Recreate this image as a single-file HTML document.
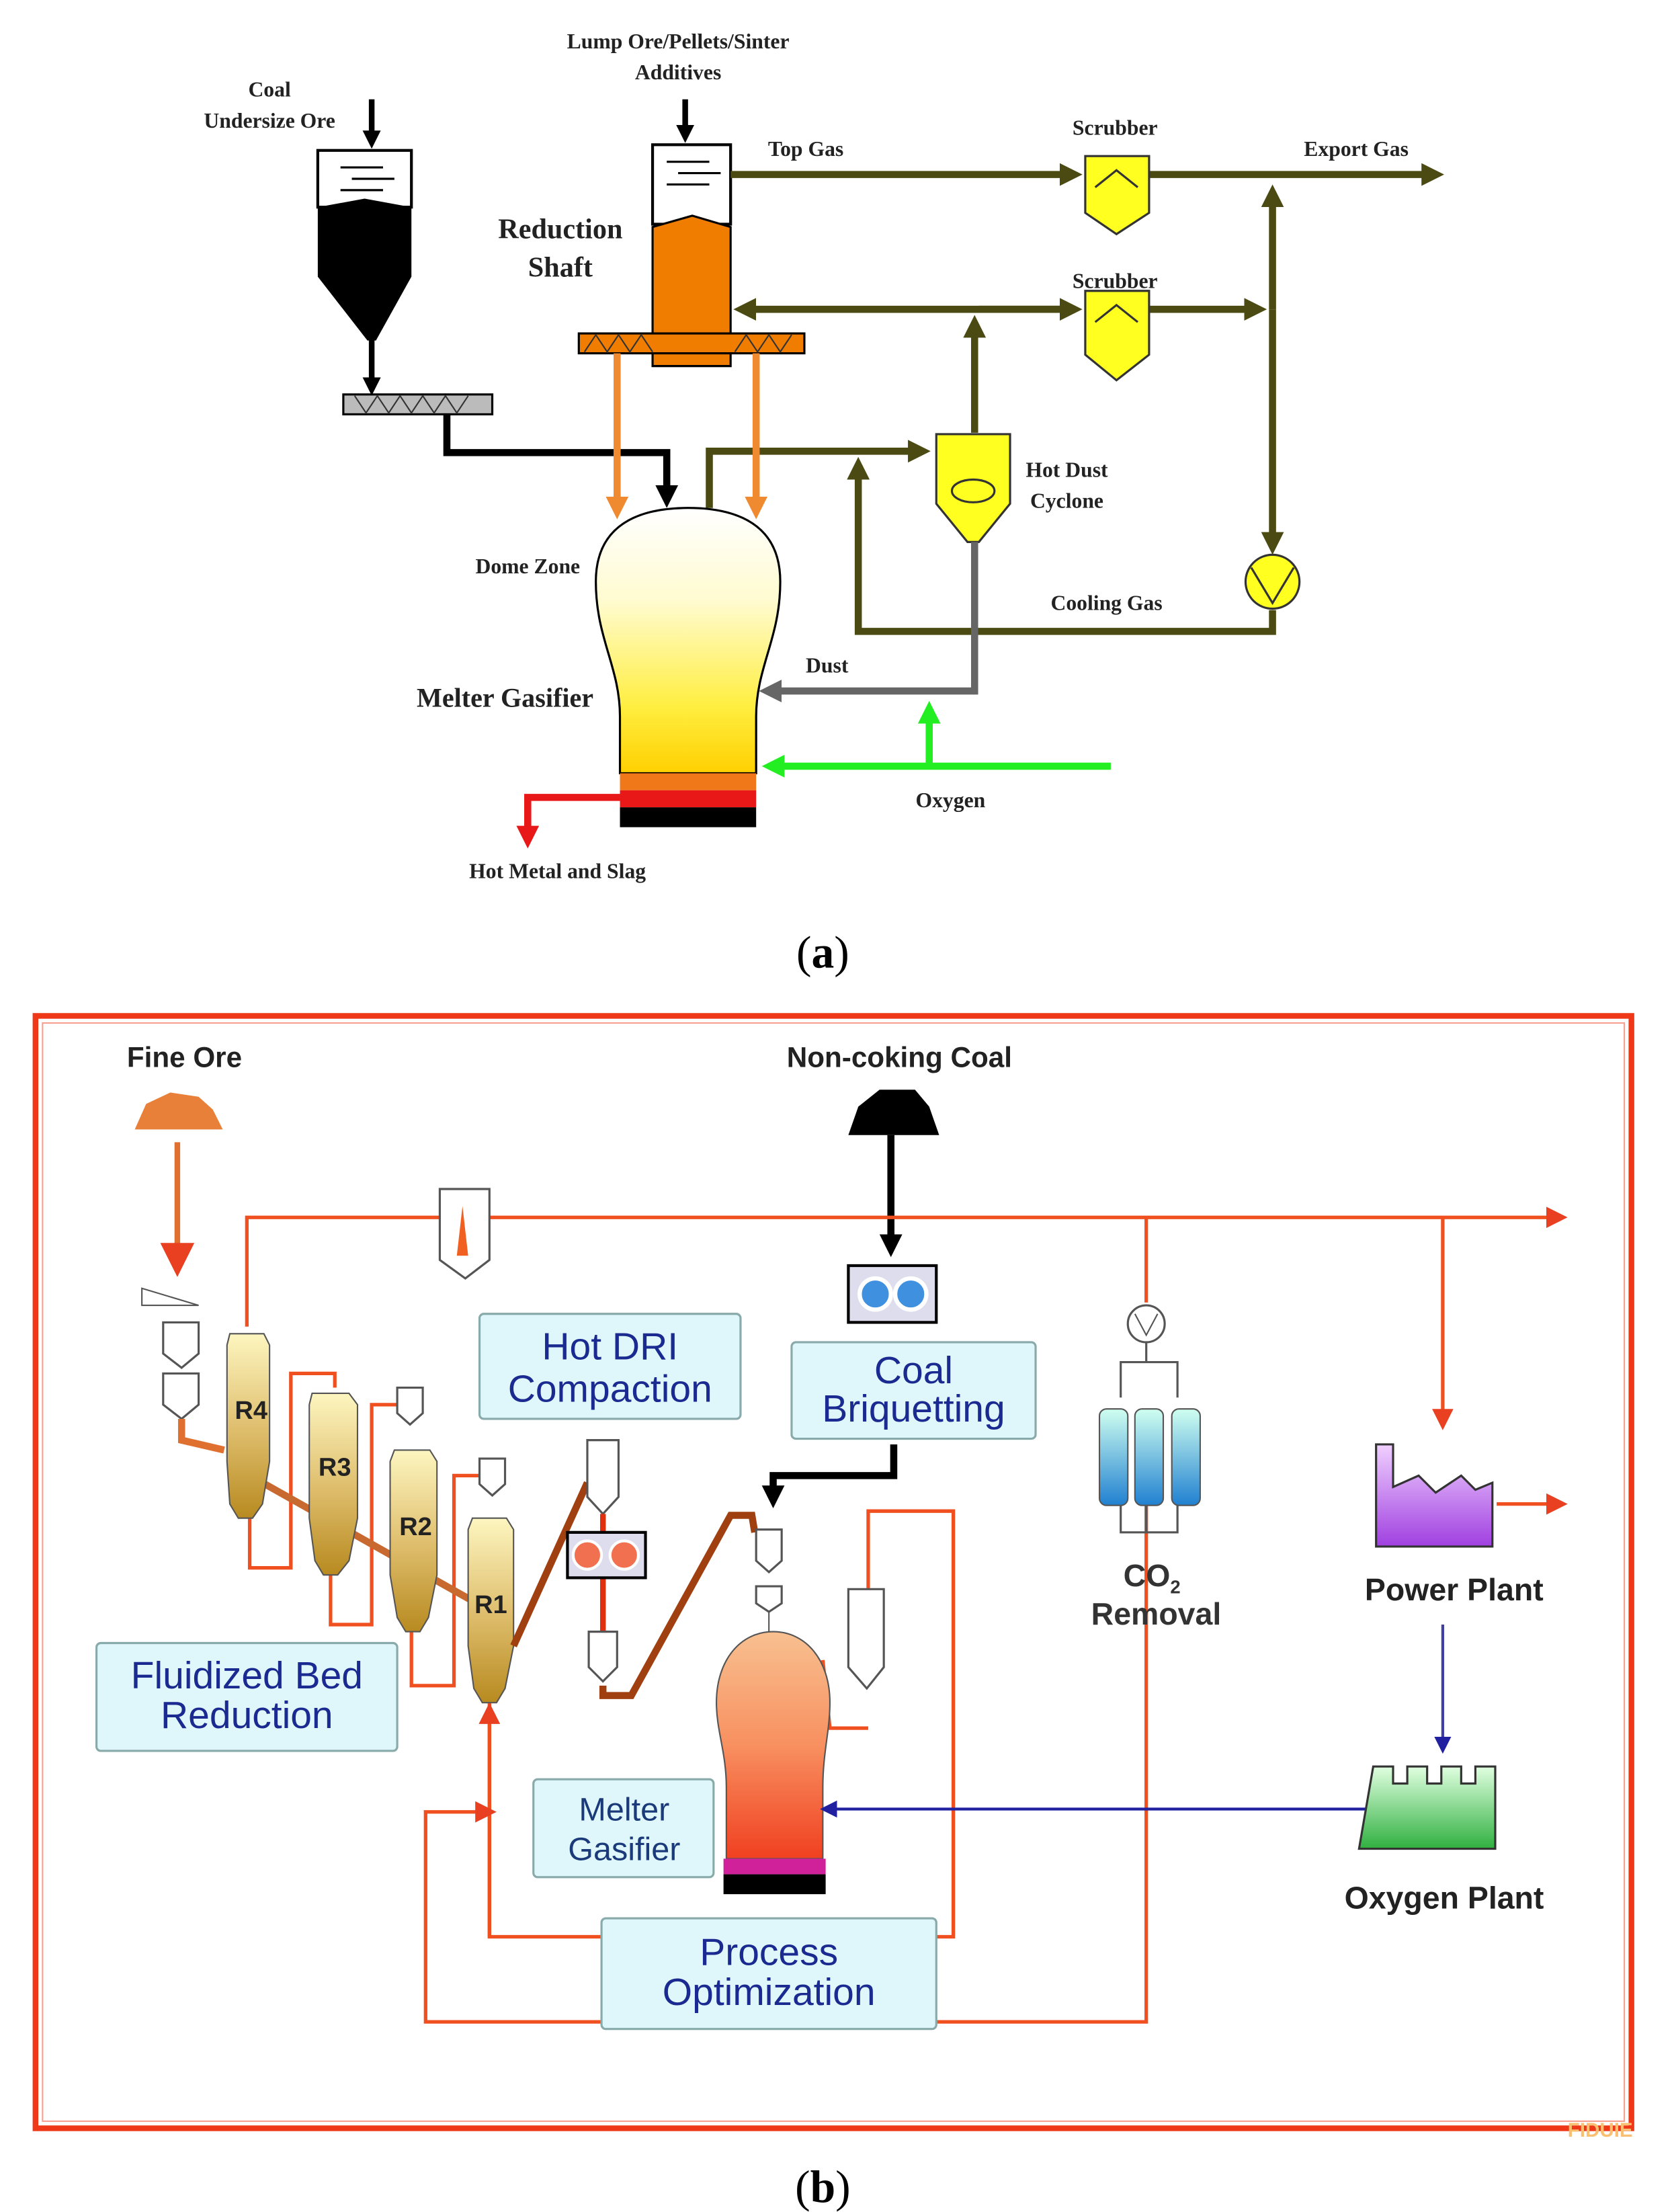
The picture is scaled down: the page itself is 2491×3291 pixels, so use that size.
<!DOCTYPE html>
<html><head><meta charset="utf-8"><style>html,body{margin:0;padding:0;background:#fff}svg{display:block}</style></head>
<body>
<svg width="2491" height="3291" viewBox="0 0 1180 1559" xmlns="http://www.w3.org/2000/svg">
<defs>
<marker id="ak" markerWidth="3.2" markerHeight="3.2" refX="2" refY="1.6" orient="auto"><path d="M0,0 L3.2,1.6 L0,3.2z" fill="#000"/></marker>
<marker id="ao" markerWidth="3.2" markerHeight="3.2" refX="2" refY="1.6" orient="auto"><path d="M0,0 L3.2,1.6 L0,3.2z" fill="#4a4a12"/></marker>
<marker id="ag" markerWidth="3.2" markerHeight="3.2" refX="2" refY="1.6" orient="auto"><path d="M0,0 L3.2,1.6 L0,3.2z" fill="#666"/></marker>
<marker id="agr" markerWidth="3.2" markerHeight="3.2" refX="2" refY="1.6" orient="auto"><path d="M0,0 L3.2,1.6 L0,3.2z" fill="#22ee22"/></marker>
<marker id="aor" markerWidth="3.2" markerHeight="3.2" refX="2" refY="1.6" orient="auto"><path d="M0,0 L3.2,1.6 L0,3.2z" fill="#f08a30"/></marker>
<marker id="ar" markerWidth="3.2" markerHeight="3.2" refX="2" refY="1.6" orient="auto"><path d="M0,0 L3.2,1.6 L0,3.2z" fill="#e81818"/></marker>
<marker id="ar2" markerWidth="6" markerHeight="6" refX="4" refY="3" orient="auto"><path d="M0,0 L6,3 L0,6z" fill="#e84020"/></marker>
<marker id="ab" markerWidth="6" markerHeight="6" refX="4" refY="3" orient="auto"><path d="M0,0 L6,3 L0,6z" fill="#2020a0"/></marker>
<linearGradient id="mg" x1="0" y1="0" x2="0" y2="1"><stop offset="0" stop-color="#fff"/><stop offset="0.35" stop-color="#fffbd0"/><stop offset="0.75" stop-color="#ffee40"/><stop offset="1" stop-color="#ffd000"/></linearGradient>
<linearGradient id="rg" x1="0" y1="0" x2="0" y2="1"><stop offset="0" stop-color="#fdf6c0"/><stop offset="0.5" stop-color="#e0c070"/><stop offset="1" stop-color="#b88a20"/></linearGradient>
<linearGradient id="mg2" x1="0" y1="0" x2="0" y2="1"><stop offset="0" stop-color="#f8c090"/><stop offset="0.5" stop-color="#f89060"/><stop offset="1" stop-color="#f04020"/></linearGradient>
<linearGradient id="pp" x1="0" y1="0" x2="0" y2="1"><stop offset="0" stop-color="#f0d0ff"/><stop offset="1" stop-color="#a040e0"/></linearGradient>
<linearGradient id="op" x1="0" y1="0" x2="0" y2="1"><stop offset="0" stop-color="#e0ffe0"/><stop offset="1" stop-color="#30b040"/></linearGradient>
<linearGradient id="co" x1="0" y1="0" x2="0" y2="1"><stop offset="0" stop-color="#d0fff0"/><stop offset="1" stop-color="#2080d0"/></linearGradient>
</defs>
<g font-family="Liberation Serif, serif" font-weight="bold" font-size="15" fill="#222" text-anchor="middle">
<text x="190" y="68">Coal</text><text x="190" y="90">Undersize Ore</text>
<line x1="262" y1="70" x2="262" y2="100" stroke="#000" stroke-width="4" marker-end="url(#ak)"/>
<rect x="224" y="106" width="66" height="40" fill="#fff" stroke="#000" stroke-width="2"/>
<path d="M240,118 h30 M248,126 h30 M240,134 h30" stroke="#000" stroke-width="1.5"/>
<path d="M224,146 L257,140 L290,146 L290,195 L265,240 L259,240 L224,195z" fill="#000"/>
<line x1="262" y1="238" x2="262" y2="274" stroke="#000" stroke-width="4" marker-end="url(#ak)"/>
<rect x="242" y="278" width="105" height="14" fill="#bbb" stroke="#000" stroke-width="1.5"/>
<path d="M250,279 l8,12 l8,-12 l8,12 l8,-12 l8,12 l8,-12 l8,12 l8,-12 l8,12 l8,-12" fill="none" stroke="#333"/>
<polyline points="315,292 315,319 470,319 470,352" fill="none" stroke="#000" stroke-width="5" marker-end="url(#ak)"/>
<text x="478" y="34">Lump Ore/Pellets/Sinter</text><text x="478" y="56">Additives</text>
<line x1="483" y1="70" x2="483" y2="96" stroke="#000" stroke-width="4" marker-end="url(#ak)"/>
<rect x="460" y="102" width="55" height="56" fill="#fff" stroke="#000" stroke-width="2"/>
<path d="M470,114 h30 M478,122 h30 M470,130 h30" stroke="#000" stroke-width="1.5"/>
<path d="M460,160 L488,152 L515,160 L515,258 L460,258z" fill="#f07c00" stroke="#000" stroke-width="1.5"/>
<rect x="408" y="235" width="159" height="14" fill="#f07c00" stroke="#000" stroke-width="1.5"/>
<path d="M412,248 l8,-12 l8,12 l8,-12 l8,12 l8,-12 l8,12 M518,248 l8,-12 l8,12 l8,-12 l8,12 l8,-12" fill="none" stroke="#333"/>
<text x="395" y="168" font-size="20">Reduction</text><text x="395" y="195" font-size="20">Shaft</text>
<g stroke="#4a4a12" stroke-width="5" fill="none">
<line x1="515" y1="123" x2="757" y2="123" marker-end="url(#ao)"/>
<line x1="810" y1="123" x2="1012" y2="123" marker-end="url(#ao)"/>
<line x1="757" y1="218" x2="523" y2="218" marker-end="url(#ao)"/>
<line x1="690" y1="218" x2="757" y2="218" marker-end="url(#ao)"/>
<line x1="810" y1="218" x2="887" y2="218" marker-end="url(#ao)"/>
<line x1="897" y1="218" x2="897" y2="136" marker-end="url(#ao)"/>
<line x1="897" y1="218" x2="897" y2="385" marker-end="url(#ao)"/>
<line x1="687" y1="305" x2="687" y2="228" marker-end="url(#ao)"/>
<polyline points="500,358 500,318 650,318" marker-end="url(#ao)"/>
<polyline points="897,430 897,445 605,445 605,328" marker-end="url(#ao)"/>
</g>
<path d="M765,110 L810,110 L810,150 L787,165 L765,150z" fill="#ffff20" stroke="#333" stroke-width="1.5"/>
<path d="M772,132 l15,-12 l15,12" fill="none" stroke="#333" stroke-width="1.5"/>
<path d="M765,205 L810,205 L810,250 L787,268 L765,250z" fill="#ffff20" stroke="#333" stroke-width="1.5"/>
<path d="M772,227 l15,-12 l15,12" fill="none" stroke="#333" stroke-width="1.5"/>
<circle cx="897" cy="410" r="19" fill="#ffff20" stroke="#333" stroke-width="1.5"/>
<path d="M882,400 L897,425 L912,400" fill="none" stroke="#333" stroke-width="1.5"/>
<text x="568" y="110">Top Gas</text><text x="786" y="95">Scrubber</text><text x="786" y="203">Scrubber</text><text x="956" y="110">Export Gas</text>
<path d="M660,306 L712,306 L712,355 L690,382 L682,382 L660,355z" fill="#ffff20" stroke="#333" stroke-width="1.5"/>
<ellipse cx="686" cy="346" rx="15" ry="8" fill="none" stroke="#333" stroke-width="1.5"/>
<text x="752" y="336">Hot Dust</text><text x="752" y="358">Cyclone</text>
<text x="780" y="430">Cooling Gas</text>
<polyline points="687,382 687,487 541,487" fill="none" stroke="#666" stroke-width="5" marker-end="url(#ag)"/>
<text x="583" y="474">Dust</text>
<line x1="435" y1="249" x2="435" y2="360" stroke="#f08a30" stroke-width="5" marker-end="url(#aor)"/>
<line x1="533" y1="249" x2="533" y2="360" stroke="#f08a30" stroke-width="5" marker-end="url(#aor)"/>
<path d="M437,545 L437,505 C437,470 420,450 420,410 C420,370 450,358 485,358 C520,358 550,370 550,410 C550,450 533,470 533,505 L533,545z" fill="url(#mg)" stroke="#000" stroke-width="1.5"/>
<rect x="437" y="545" width="96" height="12" fill="#f07818"/>
<rect x="437" y="557" width="96" height="12" fill="#e81818"/>
<rect x="437" y="569" width="96" height="14" fill="#000"/>
<text x="372" y="404">Dome Zone</text><text x="356" y="498" font-size="19">Melter Gasifier</text>
<line x1="783" y1="540" x2="543" y2="540" stroke="#22ee22" stroke-width="5" marker-end="url(#agr)"/>
<line x1="655" y1="540" x2="655" y2="500" stroke="#22ee22" stroke-width="5" marker-end="url(#agr)"/>
<text x="670" y="569">Oxygen</text>
<polyline points="437,562 372,562 372,592" fill="none" stroke="#e81818" stroke-width="5" marker-end="url(#ar)"/>
<text x="393" y="619">Hot Metal and Slag</text>
<text x="580" y="682" font-size="32" font-weight="normal" fill="#000">(<tspan font-weight="bold">a</tspan>)</text>
<text x="580" y="1552" font-size="32" font-weight="normal" fill="#000">(<tspan font-weight="bold">b</tspan>)</text>
</g>
<rect x="25" y="716" width="1125" height="784" fill="none" stroke="#ee3818" stroke-width="4"/>
<rect x="30" y="721" width="1115" height="774" fill="none" stroke="#f8a090" stroke-width="1"/>
<g font-family="Liberation Sans, sans-serif" font-weight="bold" text-anchor="middle">
<text x="130" y="752" font-size="20" fill="#222">Fine Ore</text>
<text x="634" y="752" font-size="20" fill="#222">Non-coking Coal</text>
<path d="M95,796 L103,778 L120,770 L140,773 L150,782 L157,796z" fill="#e8803a"/>
<path d="M598,800 L605,780 L620,768 L645,768 L655,780 L662,800z" fill="#000"/>
<line x1="125" y1="805" x2="125" y2="892" stroke="#e07030" stroke-width="4" marker-end="url(#ar2)"/>
<line x1="628" y1="800" x2="628" y2="880" stroke="#000" stroke-width="5" marker-end="url(#ak)"/>
<rect x="598" y="892" width="62" height="40" fill="#dde" stroke="#000" stroke-width="2"/>
<circle cx="617" cy="912" r="11" fill="#4090e0" stroke="#fff" stroke-width="3"/><circle cx="642" cy="912" r="11" fill="#4090e0" stroke="#fff" stroke-width="3"/>
<g fill="none" stroke="#f05020" stroke-width="2.5">
<polyline points="174,935 174,858 1100,858" marker-end="url(#ar2)"/>
<line x1="808" y1="858" x2="808" y2="918"/>
<line x1="1017" y1="858" x2="1017" y2="1003" marker-end="url(#ar2)"/>
<line x1="1055" y1="1060" x2="1100" y2="1060" marker-end="url(#ar2)"/>
<polyline points="176,1070 176,1105 205,1105 205,968 236,968 236,978"/>
<polyline points="233,1110 233,1145 262,1145 262,990 289,990"/>
<polyline points="290,1150 290,1188 320,1188 320,1040 345,1040"/>
<polyline points="345,1200 345,1365 425,1365"/>
<line x1="345" y1="1365" x2="345" y2="1205" marker-end="url(#ar2)"/>
<polyline points="424,1425 300,1425 300,1277 345,1277" marker-end="url(#ar2)"/>
<polyline points="660,1425 808,1425 808,1060"/>
<polyline points="660,1365 672,1365 672,1065 612,1065 612,1120"/>
<polyline points="612,1218 585,1218 580,1170"/>
</g>
<path d="M310,838 h35 v50 l-17,13 l-18,-13z" fill="#fff" stroke="#555" stroke-width="1.5"/>
<path d="M326,850 l4,35 l-8,0z" fill="#f06020"/>
<path d="M100,908 L140,920 L100,920z" fill="#fff" stroke="#555"/>
<path d="M115,932 h25 v22 l-12,10 l-13,-10z M115,968 h25 v22 l-12,10 l-13,-10z" fill="#fff" stroke="#555" stroke-width="1.5"/>
<polyline points="128,1000 128,1015 158,1022" fill="none" stroke="#e07030" stroke-width="5"/>
<line x1="185" y1="1045" x2="345" y2="1135" stroke="#c86a30" stroke-width="5"/>
<path d="M280,978 h18 v18 l-9,8 l-9,-8z M338,1028 h18 v18 l-9,8 l-9,-8z" fill="#fff" stroke="#555" stroke-width="1.5"/>
<path d="M162,940 L186,940 L190,948 L190,1030 L185,1060 L178,1070 L168,1070 L162,1060 L160,1030 L160,948z" fill="url(#rg)" stroke="#555"/>
<path d="M220,982 L246,982 L252,990 L252,1070 L246,1100 L238,1110 L228,1110 L222,1100 L218,1070 L218,990z" fill="url(#rg)" stroke="#555"/>
<path d="M278,1022 L303,1022 L308,1030 L308,1110 L302,1140 L296,1150 L286,1150 L280,1140 L275,1110 L275,1030z" fill="url(#rg)" stroke="#555"/>
<path d="M333,1070 L357,1070 L362,1078 L362,1160 L356,1190 L350,1200 L340,1200 L334,1190 L330,1160 L330,1078z" fill="url(#rg)" stroke="#555"/>
<g font-size="18" fill="#222"><text x="177" y="1000">R4</text><text x="236" y="1040">R3</text><text x="293" y="1082">R2</text><text x="346" y="1137">R1</text></g>
<line x1="362" y1="1160" x2="414" y2="1045" stroke="#a04010" stroke-width="5"/>
<path d="M414,1015 h22 v40 l-11,12 l-11,-12z" fill="#fff" stroke="#555" stroke-width="1.5"/>
<line x1="425" y1="1067" x2="425" y2="1150" stroke="#e03010" stroke-width="4"/>
<rect x="400" y="1080" width="55" height="32" fill="#dde" stroke="#000" stroke-width="2"/>
<circle cx="414" cy="1096" r="10" fill="#f07050" stroke="#fff" stroke-width="2"/><circle cx="440" cy="1096" r="10" fill="#f07050" stroke="#fff" stroke-width="2"/>
<path d="M415,1150 h20 v25 l-10,10 l-10,-10z" fill="#fff" stroke="#555" stroke-width="1.5"/>
<polyline points="425,1188 425,1195 445,1195 515,1068 530,1068 532,1080" fill="none" stroke="#a04010" stroke-width="5"/>
<polyline points="630,1018 630,1040 545,1040 545,1057" fill="none" stroke="#000" stroke-width="5" marker-end="url(#ak)"/>
<path d="M533,1078 h18 v22 l-9,8 l-9,-8z M533,1118 h18 v12 l-9,6 l-9,-6z" fill="#fff" stroke="#555" stroke-width="1.5"/>
<line x1="542" y1="1136" x2="542" y2="1150" stroke="#555"/>
<path d="M598,1120 h25 v55 l-12,15 l-13,-15z" fill="#fff" stroke="#555" stroke-width="1.5"/>
<path d="M512,1310 L512,1260 C512,1235 505,1220 505,1200 C505,1170 522,1150 545,1150 C568,1150 585,1170 585,1200 C585,1220 580,1235 580,1260 L580,1310z" fill="url(#mg2)" stroke="#555"/>
<rect x="510" y="1310" width="72" height="11" fill="#d0209a"/><rect x="510" y="1321" width="72" height="14" fill="#000"/>
<line x1="968" y1="1275" x2="582" y2="1275" stroke="#2020a0" stroke-width="2" marker-end="url(#ab)"/>
<line x1="1017" y1="1145" x2="1017" y2="1232" stroke="#4040a0" stroke-width="2" marker-end="url(#ab)"/>
<circle cx="808" cy="933" r="13" fill="#fff" stroke="#555" stroke-width="1.5"/>
<path d="M800,926 l8,15 l8,-15" fill="none" stroke="#555"/>
<path d="M808,946 v14 M790,985 v-25 h40 v25 M790,1060 v20 h40 v-20 M808,1060 v20" fill="none" stroke="#555" stroke-width="1.5"/>
<rect x="775" y="993" width="20" height="68" rx="5" fill="url(#co)" stroke="#555"/>
<rect x="800" y="993" width="20" height="68" rx="5" fill="url(#co)" stroke="#555"/>
<rect x="826" y="993" width="20" height="68" rx="5" fill="url(#co)" stroke="#555"/>
<text x="812" y="1118" font-size="22" fill="#333">CO<tspan font-size="13" dy="5">2</tspan></text>
<text x="815" y="1145" font-size="22" fill="#333">Removal</text>
<path d="M970,1090 L970,1018 L982,1018 L982,1048 L1000,1040 L1012,1052 L1030,1040 L1040,1050 L1052,1045 L1052,1090z" fill="url(#pp)" stroke="#333" stroke-width="1.5"/>
<text x="1025" y="1128" font-size="22" fill="#222">Power Plant</text>
<path d="M968,1245 h14 v12 h10 v-12 h14 v12 h10 v-12 h14 v12 h10 v-12 h14 v58 h-96z" fill="url(#op)" stroke="#333" stroke-width="1.5"/>
<text x="1018" y="1345" font-size="22" fill="#222">Oxygen Plant</text>
<g fill="#dff6fa" stroke="#8aa" stroke-width="1.5">
<rect x="338" y="926" width="184" height="74" rx="3"/>
<rect x="558" y="946" width="172" height="68" rx="3"/>
<rect x="68" y="1158" width="212" height="76" rx="3"/>
<rect x="376" y="1254" width="127" height="69" rx="3"/>
<rect x="424" y="1352" width="236" height="78" rx="3"/>
</g>
<g fill="#1a2a90" font-size="27" font-weight="normal">
<text x="430" y="958">Hot DRI</text><text x="430" y="988">Compaction</text>
<text x="644" y="975">Coal</text><text x="644" y="1002">Briquetting</text>
<text x="174" y="1190">Fluidized Bed</text><text x="174" y="1218">Reduction</text>
<text x="542" y="1385">Process</text><text x="542" y="1413">Optimization</text>
</g>
<text x="440" y="1283" font-size="23" font-weight="normal" fill="#1a3a7a">Melter</text><text x="440" y="1311" font-size="23" font-weight="normal" fill="#1a3a7a">Gasifier</text>
<text x="1128" y="1506" font-size="14" fill="#f8c070">FIDUIE</text>
</g>
</svg>
</body></html>
